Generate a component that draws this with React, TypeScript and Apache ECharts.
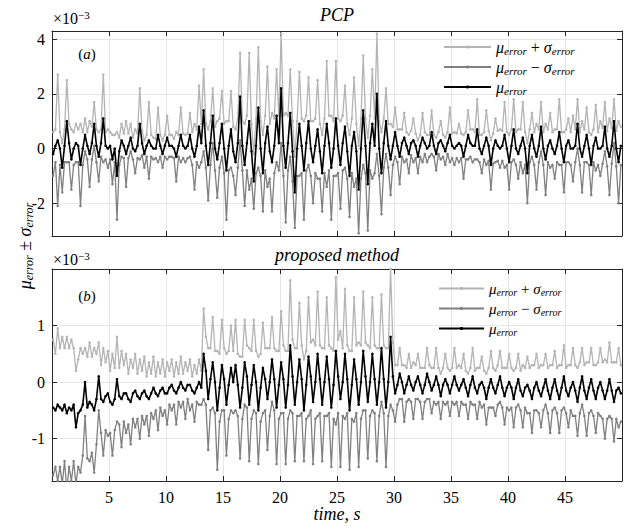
import React, { useEffect, useRef } from "react";
import * as echarts from "echarts";

// sampling of the time axis (s)
const T_START = 0.1;
const T_STEP = 0.2;

// x tick labels / y tick values (values in units of 1e-3)
const X_TICKS = [5, 10, 15, 20, 25, 30, 35, 40, 45];
const PCP_Y_TICKS = [-2, 0, 2, 4];
const PROP_Y_TICKS = [-1, 0, 1];

// (a) PCP : mean error and its standard deviation (x 1e-3), one row = 2 s
const pcpMu = [
  -0.2, 0.1, 0.3, 0.0, -0.7, 0.1, 1.0, 0.2, -0.4, 0.0,
  0.2, 0.1, -0.6, 0.0, 0.5, 0.1, -0.2, 0.2, 0.9, 0.1,
  -0.3, 0.2, 1.1, 0.1, 0.0, 0.1, -0.4, 0.0, -1.0, -0.1,
  0.3, 0.1, -0.2, 0.1, 0.4, 0.0, -0.1, 0.1, 0.9, 0.2,
  -0.2, 0.1, 0.3, 0.1, 0.0, 0.0, 0.5, 0.1, -0.2, 0.1,
  0.4, 0.1, 0.1, 0.0, -0.3, 0.1, 0.5, 0.1, 0.0, 0.1,
  0.5, 0.0, -0.3, 0.1, 0.8, 0.2, 1.4, 0.1, -0.6, 0.2,
  1.2, 0.0, -0.4, 0.2, 0.9, 0.0, -0.8, 0.1, 0.7, -0.1,
  -0.5, 0.2, 1.9, 0.1, -0.6, 0.2, 1.0, -0.1, -1.2, 0.1,
  1.5, 0.0, -0.9, 0.2, 0.8, -0.1, -0.5, 0.1, 1.2, 0.2,
  2.2, 0.1, -0.7, 0.2, 1.3, -0.1, -1.6, 0.0, 0.9, 0.1,
  -0.8, 0.2, 1.0, 0.0, -0.5, 0.1, 0.7, -0.1, -0.9, 0.1,
  0.9, 0.2, -0.7, 0.0, 1.1, 0.1, -0.6, 0.2, 0.8, -0.1,
  -1.0, 0.1, 0.6, -0.1, -1.5, 0.0, 1.4, 0.1, -1.3, 0.2,
  0.9, 0.1, 2.0, 0.0, -0.9, 0.2, 1.0, 0.1, -0.4, 0.1,
  0.6, 0.1, -0.3, 0.2, 0.4, 0.1, -0.2, 0.2, 0.3, 0.1,
  -0.3, 0.1, 0.4, 0.2, 0.0, 0.1, 0.6, 0.1, -0.2, 0.2,
  0.3, 0.1, -0.1, 0.2, 0.5, 0.1, 0.0, 0.1, 0.2, 0.1,
  -0.3, 0.1, 0.5, 0.2, 0.1, 0.1, 0.7, 0.0, -0.2, 0.1,
  0.4, 0.1, -0.6, 0.0, 0.3, 0.1, 0.0, 0.1, 0.5, 0.0,
  -0.5, 0.1, 0.7, 0.0, -0.2, 0.1, 0.4, 0.0, -0.9, 0.1,
  0.5, 0.0, -0.3, 0.1, 0.8, 0.0, -0.4, 0.1, 0.3, 0.0,
  -0.2, 0.1, 0.6, 0.0, -0.5, 0.1, 0.3, 0.0, 0.0, 0.1,
  0.9, 0.0, -0.3, 0.1, 0.5, 0.0, -0.6, 0.1, 0.4, 0.0,
  0.0, 0.1, 0.8, 0.0, -0.3, 0.1, 1.0, 0.0, -0.5, 0.1,
];
const pcpSigma = [
  0.8, 0.6, 2.4, 0.6, 0.9, 0.6, 1.5, 0.7, 1.1, 0.6,
  0.7, 0.6, 1.5, 0.6, 0.6, 0.5, 1.2, 0.6, 0.8, 0.6,
  0.9, 0.5, 1.6, 0.5, 0.7, 0.5, 0.9, 0.5, 1.6, 0.5,
  0.6, 0.45, 1.2, 0.45, 0.5, 0.4, 0.8, 0.45, 1.3, 0.45,
  0.5, 0.4, 1.4, 0.4, 0.4, 0.35, 1.0, 0.4, 0.5, 0.4,
  0.8, 0.4, 0.4, 0.35, 0.9, 0.4, 1.0, 0.45, 0.5, 0.45,
  0.8, 0.6, 1.2, 0.6, 1.5, 0.7, 1.5, 0.8, 1.3, 0.8,
  1.0, 0.8, 1.4, 0.9, 1.2, 0.9, 1.8, 0.9, 1.4, 0.9,
  1.2, 0.9, 1.6, 0.9, 1.5, 1.0, 2.5, 1.0, 1.0, 1.0,
  2.2, 1.0, 1.4, 1.0, 2.2, 1.0, 1.8, 1.0, 1.7, 1.0,
  2.0, 1.1, 2.0, 1.0, 1.6, 1.1, 1.3, 1.0, 1.9, 1.0,
  1.8, 1.0, 1.6, 1.0, 1.5, 1.0, 1.8, 1.0, 1.4, 1.0,
  2.3, 1.0, 1.9, 1.0, 2.1, 1.0, 1.6, 1.0, 1.5, 1.0,
  1.5, 1.0, 2.0, 1.0, 1.6, 1.1, 2.0, 1.0, 1.7, 1.0,
  2.0, 1.0, 2.2, 1.0, 1.5, 0.9, 1.2, 0.8, 1.3, 0.7,
  0.9, 0.6, 1.0, 0.5, 0.9, 0.5, 0.7, 0.45, 0.8, 0.45,
  0.6, 0.4, 0.9, 0.4, 0.5, 0.4, 0.8, 0.4, 0.6, 0.4,
  0.7, 0.4, 0.5, 0.4, 1.0, 0.45, 0.6, 0.45, 0.7, 0.45,
  0.8, 0.5, 0.9, 0.5, 0.6, 0.5, 1.1, 0.5, 0.7, 0.5,
  1.0, 0.55, 0.9, 0.55, 0.8, 0.55, 0.7, 0.55, 1.2, 0.6,
  1.0, 0.6, 1.1, 0.6, 0.9, 0.6, 1.3, 0.6, 1.1, 0.6,
  0.8, 0.6, 1.2, 0.6, 0.9, 0.6, 1.3, 0.6, 1.0, 0.6,
  0.9, 0.6, 1.2, 0.6, 1.1, 0.6, 0.8, 0.6, 1.2, 0.6,
  0.9, 0.6, 1.3, 0.6, 1.0, 0.6, 1.1, 0.6, 1.2, 0.6,
  1.0, 0.65, 0.9, 0.65, 1.4, 0.65, 0.8, 0.65, 1.5, 0.7,
];

// (b) proposed method : mean error and its standard deviation (x 1e-3), one row = 2 s
const propMu = [
  -0.45, -0.5, -0.4, -0.45, -0.5, -0.4, -0.55, -0.45, -0.5, -0.4,
  -0.8, -0.55, -0.5, -0.4, 0.0, -0.45, -0.35, -0.4, -0.5, -0.3,
  0.1, -0.3, -0.35, -0.25, -0.2, -0.35, -0.4, -0.3, 0.05, -0.25,
  -0.3, -0.2, -0.2, -0.3, -0.35, -0.2, -0.15, -0.25, -0.3, -0.2,
  -0.15, -0.25, -0.3, -0.2, -0.1, -0.2, -0.25, -0.15, -0.1, -0.2,
  -0.2, -0.1, -0.05, -0.15, -0.2, -0.1, 0.0, -0.1, -0.15, -0.05,
  -0.05, -0.15, -0.2, -0.1, 0.0, -0.1, 0.5, 0.2, -0.3, 0.05,
  0.35, 0.0, -0.5, -0.1, 0.3, 0.05, -0.4, -0.05, 0.25, 0.0,
  0.3, -0.05, -0.45, -0.1, 0.35, 0.1, -0.4, -0.05, 0.3, 0.0,
  -0.5, -0.1, 0.25, 0.05, -0.3, 0.0, 0.4, 0.05, -0.45, -0.05,
  0.35, 0.05, -0.45, -0.05, 0.65, 0.1, -0.4, 0.0, 0.4, 0.05,
  -0.5, -0.05, 0.45, 0.1, -0.35, 0.0, 0.5, 0.05, -0.4, 0.0,
  0.45, 0.05, -0.45, -0.05, 0.55, 0.1, -0.3, 0.0, 0.5, 0.05,
  -0.5, -0.05, 0.4, 0.05, -0.4, 0.0, 0.55, 0.1, -0.35, 0.0,
  0.5, 0.05, -0.4, 0.0, 0.6, 0.05, -0.45, 0.0, 0.8, 0.1,
  -0.2, -0.05, 0.15, 0.0, -0.2, -0.05, 0.1, -0.05, -0.15, 0.0,
  0.1, -0.05, -0.2, -0.05, 0.15, 0.0, -0.15, -0.05, 0.1, -0.05,
  -0.25, -0.05, 0.05, -0.05, -0.2, -0.05, 0.1, -0.05, -0.15, -0.05,
  0.05, -0.1, -0.25, -0.05, 0.1, -0.1, -0.2, -0.05, 0.0, -0.1,
  -0.3, -0.1, 0.05, -0.1, -0.2, -0.05, 0.1, -0.1, -0.25, -0.1,
  0.0, -0.1, -0.3, -0.1, 0.05, -0.15, -0.25, -0.1, -0.05, -0.15,
  -0.3, -0.1, 0.0, -0.15, -0.25, -0.1, 0.05, -0.15, -0.3, -0.1,
  0.05, -0.15, -0.3, -0.1, 0.1, -0.15, -0.25, -0.1, 0.0, -0.15,
  -0.35, -0.1, 0.1, -0.15, -0.3, -0.1, 0.05, -0.15, -0.3, -0.1,
  0.0, -0.15, -0.3, -0.15, 0.05, -0.15, -0.35, -0.15, -0.1, -0.2,
];
const propSigma = [
  1.2, 1.0, 1.35, 1.05, 1.3, 1.0, 1.35, 1.05, 1.25, 1.0,
  1.0, 0.95, 1.1, 0.9, 0.6, 0.9, 1.05, 0.85, 1.1, 0.8,
  0.6, 0.6, 0.95, 0.6, 0.75, 0.55, 0.9, 0.55, 0.75, 0.5,
  0.85, 0.5, 0.7, 0.45, 0.75, 0.45, 0.65, 0.4, 0.7, 0.4,
  0.6, 0.35, 0.65, 0.35, 0.55, 0.3, 0.6, 0.3, 0.5, 0.3,
  0.55, 0.3, 0.45, 0.25, 0.55, 0.25, 0.45, 0.25, 0.5, 0.25,
  0.45, 0.25, 0.5, 0.25, 0.4, 0.3, 0.8, 0.6, 0.9, 0.55,
  0.8, 0.55, 1.05, 0.6, 0.8, 0.55, 0.9, 0.6, 0.75, 0.55,
  0.8, 0.55, 0.9, 0.55, 0.75, 0.55, 1.0, 0.6, 0.8, 0.55,
  0.95, 0.6, 0.8, 0.55, 0.9, 0.6, 0.75, 0.55, 1.0, 0.6,
  0.9, 0.6, 1.0, 0.6, 1.15, 0.65, 1.0, 0.6, 1.0, 0.6,
  0.9, 0.6, 1.05, 0.6, 1.1, 0.65, 1.1, 0.6, 1.0, 0.6,
  1.05, 0.6, 1.05, 0.6, 1.3, 0.65, 1.2, 0.6, 1.15, 0.6,
  1.05, 0.6, 1.1, 0.6, 1.1, 0.65, 1.05, 0.6, 1.0, 0.6,
  1.0, 0.6, 1.0, 0.6, 0.95, 0.6, 1.05, 0.6, 1.2, 0.6,
  0.5, 0.35, 0.45, 0.3, 0.5, 0.3, 0.4, 0.3, 0.5, 0.3,
  0.4, 0.3, 0.45, 0.3, 0.45, 0.3, 0.4, 0.3, 0.5, 0.3,
  0.4, 0.3, 0.45, 0.3, 0.4, 0.3, 0.5, 0.3, 0.45, 0.3,
  0.45, 0.3, 0.4, 0.3, 0.5, 0.3, 0.45, 0.3, 0.45, 0.3,
  0.45, 0.35, 0.5, 0.35, 0.4, 0.35, 0.45, 0.35, 0.5, 0.35,
  0.5, 0.35, 0.5, 0.35, 0.45, 0.35, 0.55, 0.35, 0.5, 0.4,
  0.6, 0.4, 0.5, 0.4, 0.55, 0.4, 0.45, 0.4, 0.6, 0.4,
  0.5, 0.4, 0.6, 0.4, 0.55, 0.4, 0.55, 0.4, 0.6, 0.45,
  0.6, 0.45, 0.5, 0.45, 0.65, 0.45, 0.55, 0.45, 0.6, 0.45,
  0.6, 0.5, 0.7, 0.5, 0.65, 0.5, 0.7, 0.5, 0.7, 0.5,
];

const SERIES_NAMES = ["upper", "lower", "mu"];

const SERIF = "Liberation Serif";
const C_UPPER = "#b4b4b4";
const C_LOWER = "#808080";
const C_MU = "#000000";
const AXIS_C = "#262626";
const GRID_C = "#e6e6e6";

function buildOption() {
  const times = pcpMu.map((_, i) => Number((T_START + i * T_STEP).toFixed(2)));
  const band = (mu: number[], sg: number[], sign: number) =>
    mu.map((m, i) => [times[i], Number((m + sign * sg[i]).toFixed(3))]);
  const mean = (mu: number[]) => mu.map((m, i) => [times[i], m]);

  const line = (name: string, color: string, data: number[][], idx: number, z: number, w: number) => ({
    type: "line",
    name,
    xAxisIndex: idx,
    yAxisIndex: idx,
    data,
    symbol: "circle",
    symbolSize: 2.6,
    showSymbol: true,
    lineStyle: { color, width: w },
    itemStyle: { color },
    z,
    clip: true,
    silent: true,
  });

  const xAxisFor = (gridIndex: number, showLabels: boolean) => ({
    type: "value",
    gridIndex,
    min: 0,
    max: 50,
    interval: 5,
    axisLine: { show: true, onZero: false, lineStyle: { color: AXIS_C, width: 1 } },
    axisTick: { show: true, inside: true, length: 5, lineStyle: { color: AXIS_C } },
    axisLabel: {
      show: showLabels,
      customValues: X_TICKS,
      color: "#000",
      fontFamily: SERIF,
      fontSize: 16,
      margin: 8,
    },
    splitLine: { show: true, lineStyle: { color: GRID_C, width: 1 } },
  });
  const xTopFor = (gridIndex: number) => ({
    type: "value",
    gridIndex,
    position: "top",
    min: 0,
    max: 50,
    interval: 5,
    axisLine: { show: true, onZero: false, lineStyle: { color: AXIS_C, width: 1 } },
    axisTick: { show: true, inside: true, length: 5, lineStyle: { color: AXIS_C } },
    axisLabel: { show: false },
    splitLine: { show: false },
  });
  const yAxisFor = (gridIndex: number, min: number, max: number, ticks: number[]) => ({
    type: "value",
    gridIndex,
    min,
    max,
    axisLine: { show: true, onZero: false, lineStyle: { color: AXIS_C, width: 1 } },
    axisTick: { show: true, inside: true, length: 5, customValues: ticks, lineStyle: { color: AXIS_C } },
    axisLabel: {
      show: true,
      customValues: ticks,
      color: "#000",
      fontFamily: SERIF,
      fontSize: 16,
      margin: 7,
    },
    splitLine: { show: true, lineStyle: { color: GRID_C, width: 1 } },
  });
  const yRightFor = (gridIndex: number, min: number, max: number, ticks: number[]) => ({
    type: "value",
    gridIndex,
    position: "right",
    min,
    max,
    axisLine: { show: true, onZero: false, lineStyle: { color: AXIS_C, width: 1 } },
    axisTick: { show: true, inside: true, length: 5, customValues: ticks, lineStyle: { color: AXIS_C } },
    axisLabel: { show: false, customValues: ticks },
    splitLine: { show: false },
  });

  const legendRich = (big: number, small: number) => ({
    m: { fontFamily: SERIF, fontStyle: "italic", fontSize: big, lineHeight: big + 2, color: "#000" },
    s: { fontFamily: SERIF, fontStyle: "italic", fontSize: small, lineHeight: small, verticalAlign: "bottom", color: "#000" },
    o: { fontFamily: SERIF, fontSize: big, lineHeight: big + 2, color: "#000" },
  });
  const legendFormatter = (name: string) => {
    if (name === "upper") return "{m|μ}{s|error}{o| + }{m|σ}{s|error}";
    if (name === "lower") return "{m|μ}{s|error}{o| − }{m|σ}{s|error}";
    return "{m|μ}{s|error}";
  };

  const sup = (y: number) => ({
    type: "text",
    left: 53,
    top: y,
    silent: true,
    style: {
      text: "{a|×10}{b|−3}",
      rich: {
        a: { fontFamily: SERIF, fontSize: 16, lineHeight: 18, color: "#000" },
        b: { fontFamily: SERIF, fontSize: 11, lineHeight: 11, verticalAlign: "top", color: "#000" },
      },
    },
  });
  const tag = (letter: string, y: number) => ({
    type: "text",
    x: 87,
    y,
    silent: true,
    style: {
      text: `{n|(}{i|${letter}}{n|)}`,
      align: "center",
      verticalAlign: "middle",
      rich: {
        n: { fontFamily: SERIF, fontSize: 15, color: "#000" },
        i: { fontFamily: SERIF, fontSize: 15, fontStyle: "italic", color: "#000" },
      },
    },
  });
  const title = (text: string, y: number) => ({
    type: "text",
    x: 337,
    y,
    silent: true,
    style: {
      text,
      align: "center",
      verticalAlign: "middle",
      fontFamily: SERIF,
      fontStyle: "italic",
      fontSize: 18,
      fill: "#000",
    },
  });

  return {
    animation: false,
    backgroundColor: "#ffffff",
    textStyle: { fontFamily: SERIF },
    grid: [
      { left: 52, right: 2, top: 31, height: 205, show: false },
      { left: 52, right: 2, top: 269, height: 212, show: false },
    ],
    xAxis: [xAxisFor(0, false), xTopFor(0), xAxisFor(1, true), xTopFor(1)],
    yAxis: [
      yAxisFor(0, -3.2, 4.3, PCP_Y_TICKS),
      yRightFor(0, -3.2, 4.3, PCP_Y_TICKS),
      yAxisFor(1, -1.75, 2.0, PROP_Y_TICKS),
      yRightFor(1, -1.75, 2.0, PROP_Y_TICKS),
    ],
    legend: [
      {
        data: SERIES_NAMES,
        orient: "vertical",
        left: 443,
        top: 39,
        padding: 0,
        itemWidth: 47,
        itemHeight: 4,
        itemGap: 3,
        selectedMode: false,
        formatter: legendFormatter,
        textStyle: { fontFamily: SERIF, rich: legendRich(16, 11) },
      },
      {
        data: SERIES_NAMES,
        orient: "vertical",
        left: 438,
        top: 281,
        padding: 0,
        itemWidth: 45,
        itemHeight: 4,
        itemGap: 4,
        selectedMode: false,
        formatter: legendFormatter,
        textStyle: { fontFamily: SERIF, rich: legendRich(15, 10) },
      },
    ],
    series: [
      line("upper", C_UPPER, band(pcpMu, pcpSigma, 1), 0, 2, 1.3),
      line("lower", C_LOWER, band(pcpMu, pcpSigma, -1), 0, 3, 1.3),
      line("mu", C_MU, mean(pcpMu), 0, 4, 1.6),
      line("upper", C_UPPER, band(propMu, propSigma, 1), 2, 2, 1.3),
      line("lower", C_LOWER, band(propMu, propSigma, -1), 2, 3, 1.3),
      line("mu", C_MU, mean(propMu), 2, 4, 1.6),
    ],
    graphic: [
      title("PCP", 15),
      title("proposed method", 255),
      sup(9),
      sup(250),
      tag("a", 54),
      tag("b", 296),
      {
        type: "text",
        x: 337,
        y: 514,
        silent: true,
        style: {
          text: "time, s",
          align: "center",
          verticalAlign: "middle",
          fontFamily: SERIF,
          fontStyle: "italic",
          fontSize: 18,
          fill: "#000",
        },
      },
      {
        type: "text",
        x: 25,
        y: 246,
        rotation: Math.PI / 2,
        silent: true,
        style: {
          text: "{m|μ}{s|error}{o| ± }{m|σ}{s|error}",
          align: "center",
          verticalAlign: "middle",
          rich: {
            m: { fontFamily: SERIF, fontStyle: "italic", fontSize: 18, lineHeight: 20, color: "#000" },
            s: { fontFamily: SERIF, fontStyle: "italic", fontSize: 12, lineHeight: 12, verticalAlign: "bottom", color: "#000" },
            o: { fontFamily: SERIF, fontSize: 18, lineHeight: 20, color: "#000" },
          },
        },
      },
    ],
  };
}

export default function App() {
  const ref = useRef<HTMLDivElement | null>(null);
  useEffect(() => {
    if (!ref.current) return;
    const chart = echarts.init(ref.current, null, { renderer: "svg" });
    chart.setOption(buildOption() as any);
    return () => chart.dispose();
  }, []);
  return (
    <div
      ref={ref}
      style={{ position: "fixed", left: 0, top: 0, width: 624, height: 529, background: "#fff" }}
    />
  );
}
